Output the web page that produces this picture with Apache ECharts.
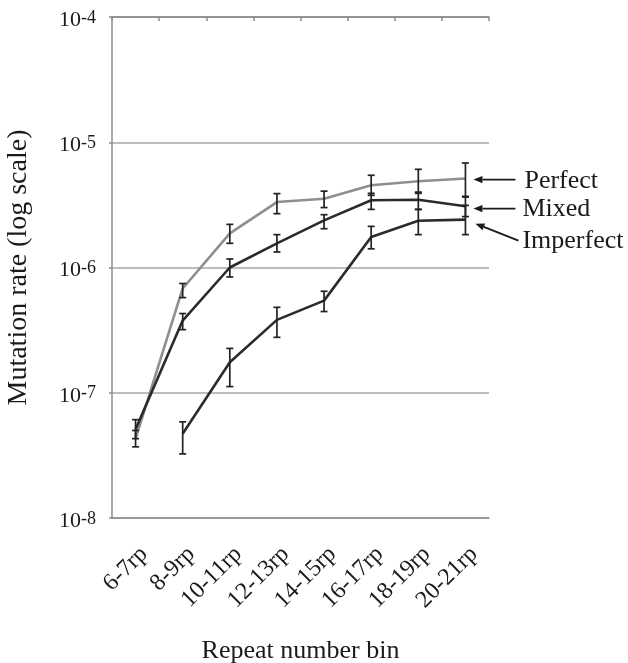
<!DOCTYPE html>
<html>
<head>
<meta charset="utf-8">
<script src="https://cdn.jsdelivr.net/npm/echarts@6/dist/echarts.min.js"></script>
<style>html,body{margin:0;padding:0;background:#fff;}#c{width:628px;height:663px;}</style>
</head>
<body>
<div id="c"></div>
<script>
const categories = ['6-7rp','8-9rp','10-11rp','12-13rp','14-15rp','16-17rp','18-19rp','20-21rp'];
const yTickExponents = [-8, -7, -6, -5, -4];

const perfect     = [4.3e-8, 6.8e-7, 1.87e-6, 3.33e-6, 3.54e-6, 4.53e-6, 4.88e-6, 5.13e-6];
const perfectLow  = [3.7e-8, 5.75e-7, 1.56e-6, 2.69e-6, 3.01e-6, 3.77e-6, 3.91e-6, 3.70e-6];
const perfectHigh = [5.0e-8, 7.45e-7, 2.21e-6, 3.89e-6, 4.07e-6, 5.45e-6, 6.08e-6, 6.83e-6];

const mixed     = [5.1e-8, 3.77e-7, 1.0e-6, 1.56e-6, 2.38e-6, 3.44e-6, 3.47e-6, 3.08e-6];
const mixedLow  = [4.3e-8, 3.19e-7, 8.4e-7, 1.33e-6, 2.04e-6, 2.91e-6, 2.91e-6, 2.55e-6];
const mixedHigh = [6.1e-8, 4.29e-7, 1.17e-6, 1.83e-6, 2.64e-6, 3.91e-6, 4.0e-6, 3.65e-6];

const imperfect     = [null, 4.7e-8, 1.75e-7, 3.82e-7, 5.44e-7, 1.75e-6, 2.36e-6, 2.41e-6];
const imperfectLow  = [null, 3.25e-8, 1.12e-7, 2.77e-7, 4.45e-7, 1.41e-6, 1.83e-6, 1.83e-6];
const imperfectHigh = [null, 5.86e-8, 2.26e-7, 4.81e-7, 6.46e-7, 2.13e-6, 2.91e-6, 3.13e-6];

const seriesNames = ['Perfect', 'Mixed', 'Imperfect'];

const FONT = '"Liberation Serif", "DejaVu Serif", serif';
const TEXT = '#1a1a1a';
const AXIS = '#8c8c8c';

function lineData(arr){ return arr.map(v => v == null ? '-' : v); }
function errData(lo, hi){
  const out = [];
  for (let i = 0; i < lo.length; i++) if (lo[i] != null) out.push([i, lo[i], hi[i]]);
  return out;
}
function renderErr(params, api){
  const x = api.value(0);
  const lo = api.coord([x, api.value(1)]);
  const hi = api.coord([x, api.value(2)]);
  const hw = 3.5;
  const st = {stroke: '#222', lineWidth: 1.7};
  return {type: 'group', children: [
    {type: 'line', shape: {x1: lo[0], y1: lo[1], x2: hi[0], y2: hi[1]}, style: st},
    {type: 'line', shape: {x1: lo[0]-hw, y1: lo[1], x2: lo[0]+hw, y2: lo[1]}, style: st},
    {type: 'line', shape: {x1: hi[0]-hw, y1: hi[1], x2: hi[0]+hw, y2: hi[1]}, style: st}
  ]};
}

const chart = echarts.init(document.getElementById('c'), null, {renderer: 'canvas'});
const option = {
  animation: false,
  backgroundColor: '#fff',
  grid: {left: 112, right: 139, top: 17, bottom: 145, containLabel: false, outerBoundsMode: 'none'},
  xAxis: [{
    type: 'category', data: categories, boundaryGap: true, position: 'bottom',
    axisLine: {show: true, lineStyle: {color: AXIS, width: 1.5}},
    axisTick: {show: false},
    axisLabel: {interval: 0, rotate: 45, margin: 24, align: 'right', verticalAlign: 'top',
                fontFamily: FONT, fontSize: 24, color: TEXT},
    name: 'Repeat number bin', nameLocation: 'middle', nameGap: 120,
    nameTextStyle: {fontFamily: FONT, fontSize: 26, color: TEXT},
    splitLine: {show: false}
  }, {
    type: 'category', data: categories, boundaryGap: true, position: 'top',
    axisLine: {show: true, lineStyle: {color: AXIS, width: 1.5}},
    axisTick: {show: true, inside: true, length: 4, interval: 0, lineStyle: {color: AXIS, width: 1.5}},
    axisLabel: {show: false},
    splitLine: {show: false}
  }],
  yAxis: {
    type: 'log', logBase: 10, min: 1e-8, max: 1e-4, splitNumber: 4,
    axisLine: {show: true, lineStyle: {color: AXIS, width: 1.5}},
    axisTick: {show: true, length: 3, lineStyle: {color: AXIS, width: 1.5}},
    splitLine: {show: true, lineStyle: {color: '#a6a6a6', width: 1.5}},
    axisLabel: {
      margin: 16,
      padding: [6, 0, 0, 0],
      formatter: function(v){
        const e = Math.round(Math.log10(v));
        return '{b|10}{s|' + e + '}';
      },
      rich: {
        b: {fontFamily: FONT, fontSize: 22, color: TEXT, lineHeight: 22},
        s: {fontFamily: FONT, fontSize: 18, color: TEXT, verticalAlign: 'top', lineHeight: 22, padding: [0,0,7,0]}
      }
    },
    name: 'Mutation rate (log scale)', nameLocation: 'middle', nameGap: 79, nameRotate: 90,
    nameTextStyle: {fontFamily: FONT, fontSize: 28, color: TEXT}
  },
  series: [
    {name: 'Perfect', type: 'line', data: lineData(perfect), symbol: 'none', z: 2,
     lineStyle: {color: '#8e8e8e', width: 2.6}},
    {name: 'Mixed', type: 'line', data: lineData(mixed), symbol: 'none', z: 3,
     lineStyle: {color: '#2b2b2b', width: 2.6}},
    {name: 'Imperfect', type: 'line', data: lineData(imperfect), symbol: 'none', z: 3,
     lineStyle: {color: '#2b2b2b', width: 2.6}},
    {type: 'custom', renderItem: renderErr, data: errData(perfectLow, perfectHigh), z: 5, encode: {x: 0, y: [1, 2]}},
    {type: 'custom', renderItem: renderErr, data: errData(mixedLow, mixedHigh), z: 5, encode: {x: 0, y: [1, 2]}},
    {type: 'custom', renderItem: renderErr, data: errData(imperfectLow, imperfectHigh), z: 5, encode: {x: 0, y: [1, 2]}}
  ]
};
chart.setOption(option);

// Annotations with arrows, anchored to the last point of each series
const lastIdx = categories.length - 1;
const lastVals = [perfect[lastIdx], mixed[lastIdx], imperfect[lastIdx]];
const graphics = [];
const arrowSpec = [
  {hx: 8, hy: 1, tx: 50, ty: 1, lx: 59, ly: 3},
  {hx: 8, hy: 2.3, tx: 50, ty: 2.3, lx: 57, ly: 2.5},
  {hx: 10, hy: 4, tx: 53, ty: 21, lx: 57, ly: 22}
];
lastVals.forEach((v, i) => {
  const p = chart.convertToPixel({xAxisIndex: 0, yAxisIndex: 0}, [lastIdx, v]);
  const s = arrowSpec[i];
  const hx = p[0] + s.hx, hy = p[1] + s.hy, tx = p[0] + s.tx, ty = p[1] + s.ty;
  const ang = Math.atan2(ty - hy, tx - hx);
  const L = 9, W = 3.6;
  const bx = hx + L * Math.cos(ang), by = hy + L * Math.sin(ang);
  const nx = -Math.sin(ang), ny = Math.cos(ang);
  graphics.push({type: 'line', shape: {x1: bx, y1: by, x2: tx, y2: ty}, style: {stroke: '#1a1a1a', lineWidth: 1.8}, z: 10});
  graphics.push({type: 'polygon', shape: {points: [[hx, hy], [bx + nx*W, by + ny*W], [bx - nx*W, by - ny*W]]}, style: {fill: '#1a1a1a'}, z: 10});
  graphics.push({type: 'text', x: p[0] + s.lx, y: p[1] + s.ly, style: {text: seriesNames[i], font: '26px ' + FONT, fill: TEXT, textVerticalAlign: 'middle', textAlign: 'left'}, z: 10});
});
chart.setOption({graphic: graphics});
</script>
</body>
</html>
